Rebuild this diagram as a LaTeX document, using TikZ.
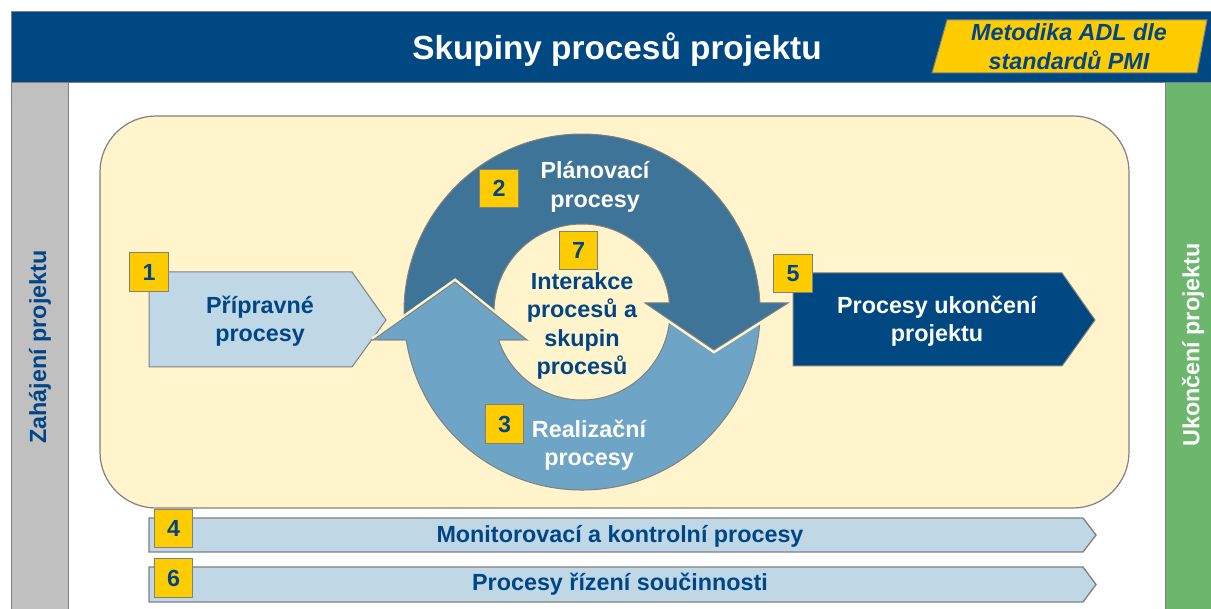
\documentclass[tikz,border=0pt]{standalone}
\usepackage{fontspec}
\setmainfont{Liberation Sans}
\usetikzlibrary{calc}
\definecolor{hdrblue}{RGB}{0,72,130}
\definecolor{txtblue}{RGB}{0,70,135}
\definecolor{cream}{RGB}{255,244,204}
\definecolor{lblue}{RGB}{192,216,230}
\definecolor{planc}{RGB}{62,116,152}
\definecolor{realc}{RGB}{110,165,198}
\definecolor{ybox}{RGB}{255,204,0}
\definecolor{sidegray}{RGB}{192,192,192}
\definecolor{endgreen}{RGB}{108,182,110}
\definecolor{edgegray}{RGB}{128,128,128}
\begin{document}
\begin{tikzpicture}[x=0.75pt,y=-0.75pt,
  outline/.style={draw=edgegray, line width=0.75pt},
  lbl/.style={font=\fontsize{17.5}{21.4}\selectfont\bfseries, align=center, inner sep=0pt},
  numbox/.style={fill=ybox, draw=edgegray, line width=0.8pt, minimum width=29pt, minimum height=29pt,
    inner sep=0pt, text=txtblue, font=\fontsize{17.5}{21}\selectfont\bfseries},
  gap/.style={draw=cream, line width=4.5pt, line join=miter}]
\useasboundingbox (0,0) rectangle (1211,609);
\fill[white] (0,0) rectangle (1211,609);
% header
\filldraw[fill=hdrblue, draw=edgegray, line width=0.75pt] (11,12) rectangle (1215,83);
\node[lbl, text=white, font=\fontsize{25}{30}\selectfont\bfseries] (title) at (617,50) {Skupiny procesů projektu};
\filldraw[fill=ybox, draw=edgegray, line width=0.75pt] (947,20) -- (1207,20) -- (1197,73) -- (932,73) -- cycle;
\node[lbl, text=txtblue, font=\fontsize{17.5}{21.6}\selectfont\bfseries\itshape] (badge) at (1069,47) {Metodika ADL dle\\standardů PMI};
% side bars
\filldraw[fill=sidegray, draw=edgegray, line width=0.75pt] (11,83) rectangle (68,612);
\node[lbl, text=txtblue, rotate=90] (start) at (40,347) {Zahájení projektu};
\filldraw[fill=endgreen, draw=edgegray, line width=0.75pt] (1165,83) rectangle (1215,612);
\node[lbl, text=white, rotate=90] (end) at (1193,345) {Ukončení projektu};
% main panel
\filldraw[fill=cream, draw=edgegray, line width=0.9pt, rounded corners=42pt] (100,116) rectangle (1129,508);
% preparatory
\filldraw[fill=lblue, outline] (149,272) -- (352,272) -- (386,320) -- (352,367) -- (149,367) -- cycle;
\node[lbl, text=txtblue] (prep) at (260,321) {Přípravné\\procesy};
% closing
\filldraw[fill=hdrblue, outline] (793,273) -- (1062,273) -- (1095,320) -- (1062,366) -- (793,366) -- cycle;
\node[lbl, text=white] (close) at (937,321) {Procesy ukončení\\projektu};
% cycle arrows
\coordinate (C) at (582,312);
% realization (full)
\filldraw[fill=realc, outline] ($(C)+(-8:178)$) arc[start angle=-8, end angle=171, radius=178]
  -- (373,340) -- (455,282) -- (527,340) -- ($(C)+(161.5:88)$)
  arc[start angle=161.5, end angle=-8, radius=88] -- cycle;
% planning
\draw[gap] (788,303) -- (714,350) -- (645,303);
\filldraw[fill=planc, outline] ($(C)+(175:178)$) arc[start angle=175, end angle=357.1, radius=178]
  -- (788,303) -- (714,350) -- (645,303) -- ($(C)+(354.1:88)$)
  arc[start angle=354.1, end angle=175, radius=88] -- cycle;
% realization head on top
\draw[gap] (373,340) -- (455,282) -- (527,340);
\fill[realc] (373,340) -- (455,282) -- (527,340) -- cycle;
\draw[outline] ($(C)+(171:178)$) -- (373,340) -- (455,282) -- (527,340) -- ($(C)+(161.5:88)$);
\node[lbl, text=white] (plan) at (595,187) {Plánovací\\procesy};
\node[lbl, text=white] (real) at (589,445) {Realizační\\procesy};
\node[lbl, text=txtblue] (inter) at (582,326) {Interakce\\procesů a\\skupin\\procesů};
% bottom bars
\filldraw[fill=lblue, draw=edgegray, line width=1pt] (149,518) -- (1083,518) -- (1096,535) -- (1083,552) -- (149,552) -- cycle;
\node[lbl, text=txtblue] (monitor) at (620,536) {Monitorovací a kontrolní procesy};
\filldraw[fill=lblue, draw=edgegray, line width=1pt] (149,567) -- (1083,567) -- (1096,584.5) -- (1083,602) -- (149,602) -- cycle;
\node[lbl, text=txtblue] (coop) at (620,584) {Procesy řízení součinnosti};
% number boxes
\node[numbox] (n1) at (149,272) {1};
\node[numbox] (n2) at (499,188.5) {2};
\node[numbox] (n3) at (504.5,424) {3};
\node[numbox] (n7) at (578.5,250.5) {7};
\node[numbox] (n5) at (793,273.5) {5};
\node[numbox] (n4) at (173.5,528.5) {4};
\node[numbox] (n6) at (173.5,578) {6};
\end{tikzpicture}
\end{document}
